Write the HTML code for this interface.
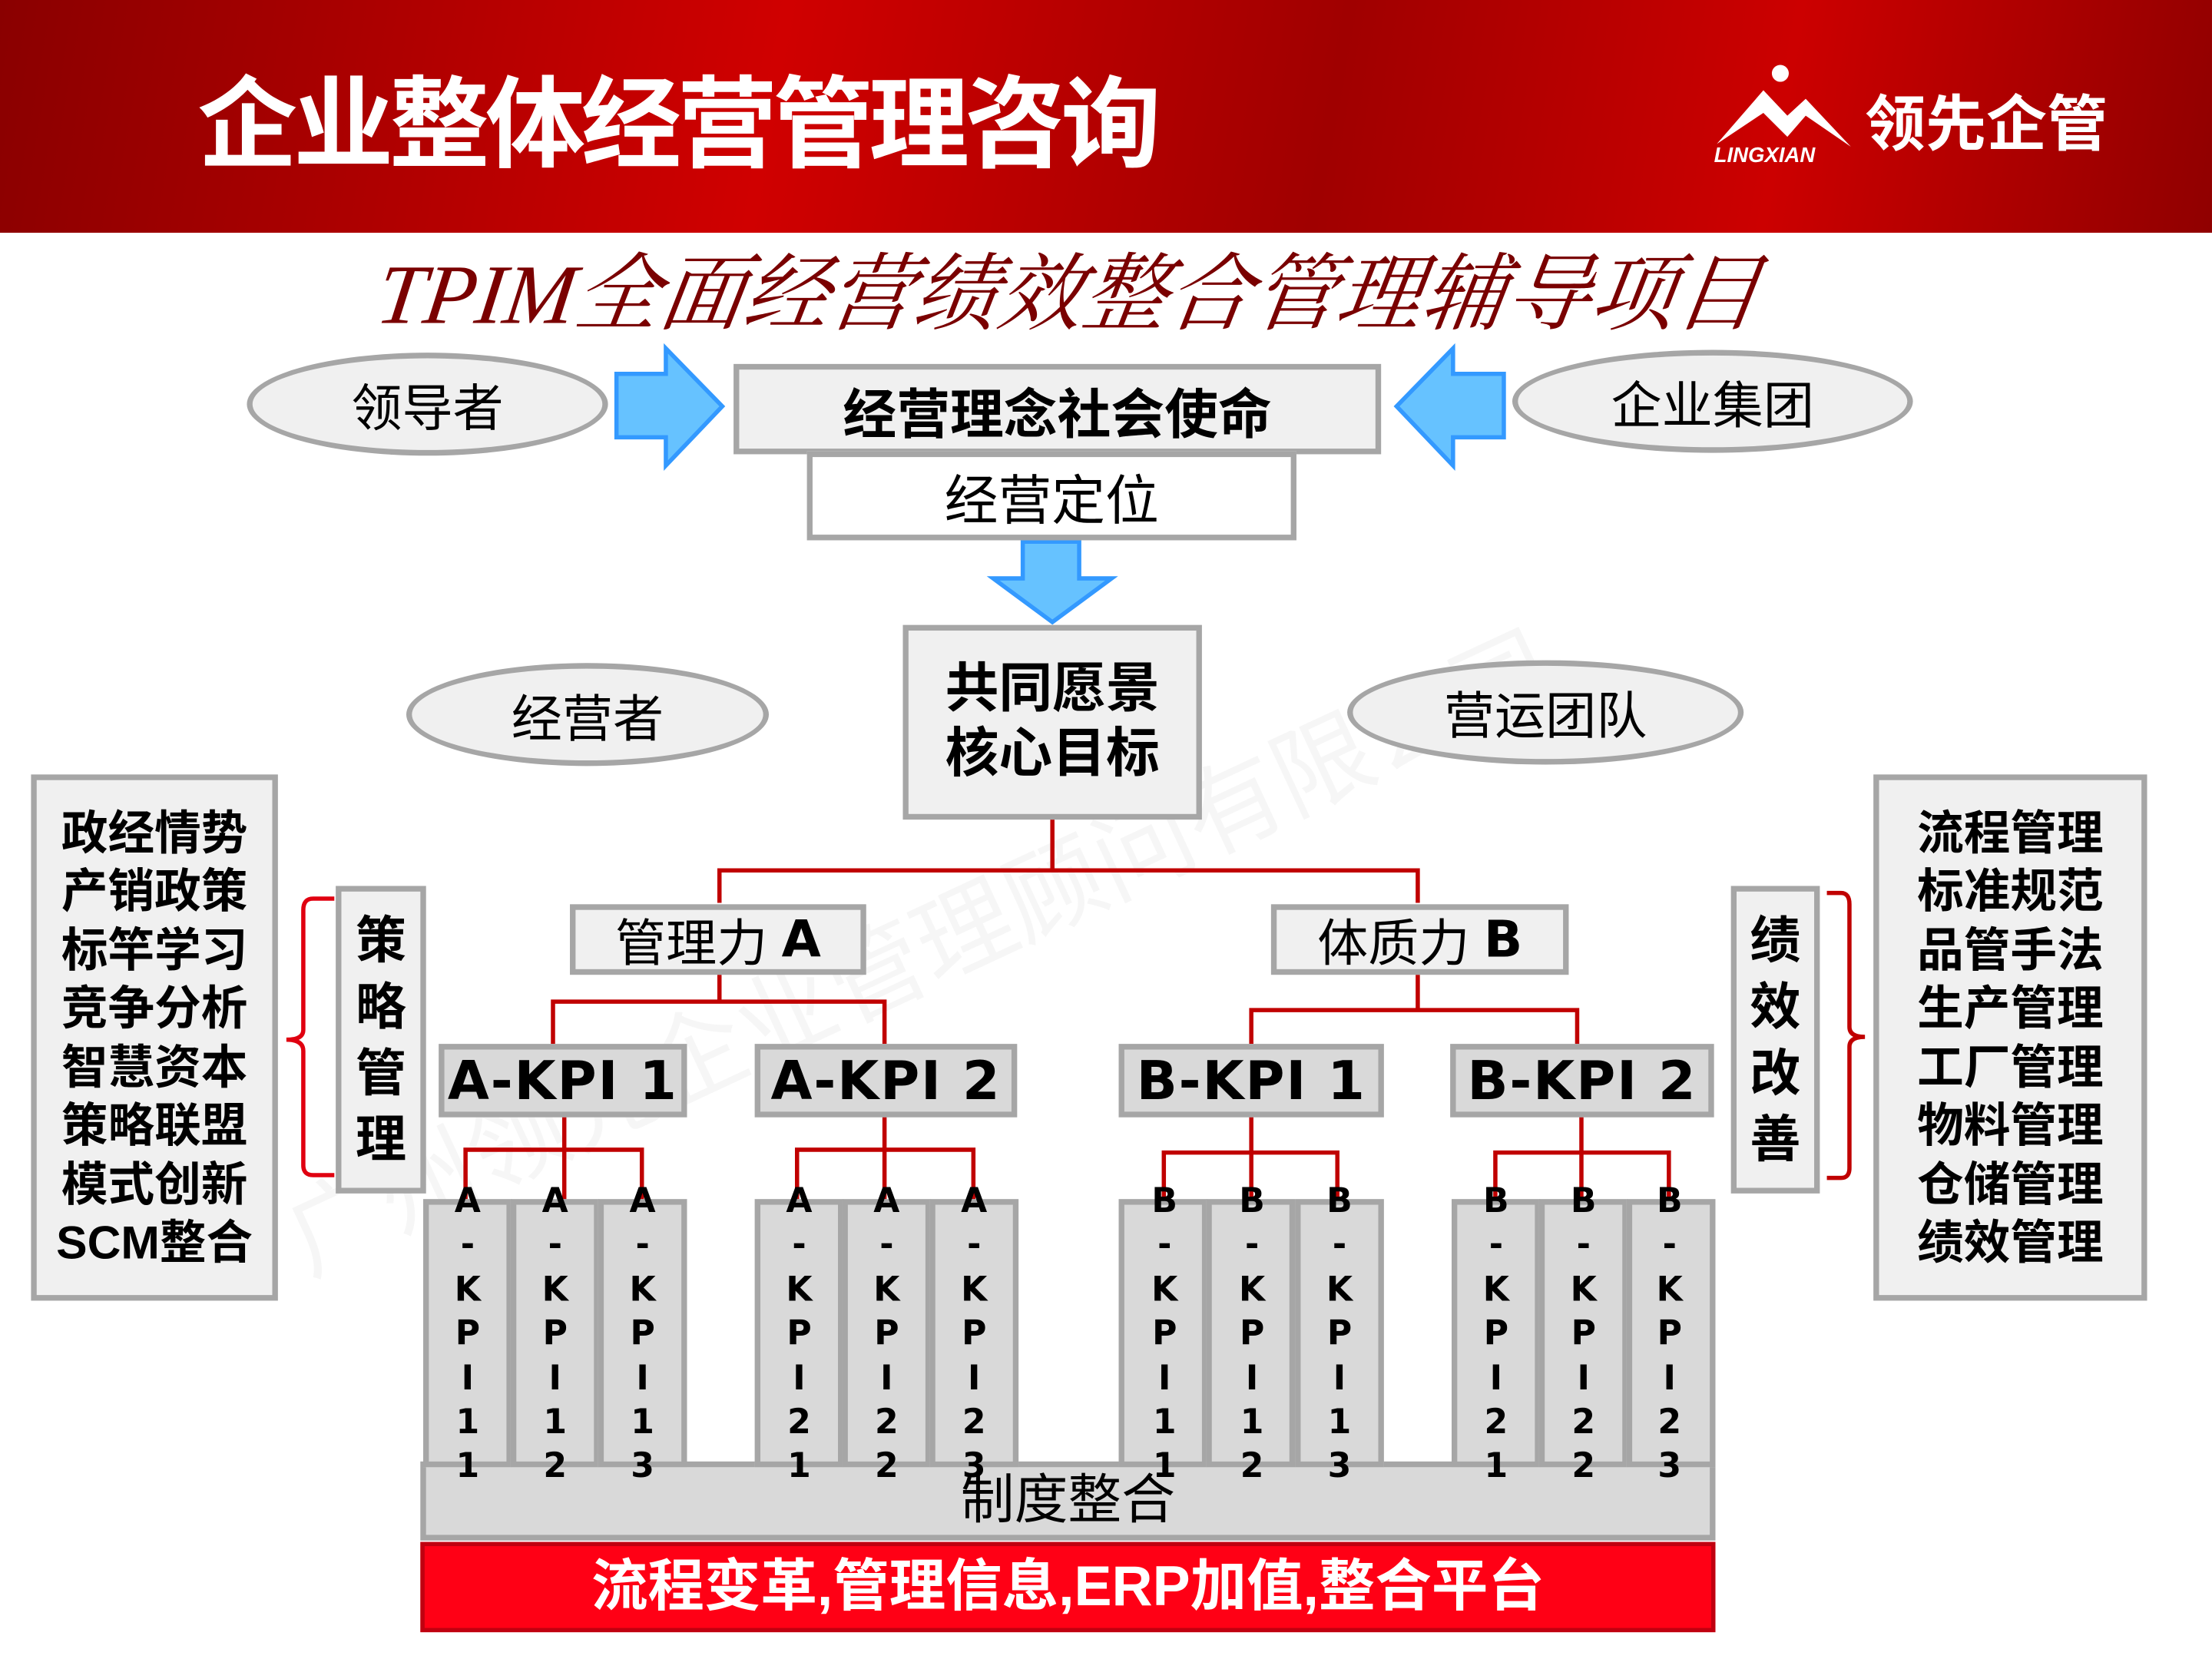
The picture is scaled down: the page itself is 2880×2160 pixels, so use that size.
<!DOCTYPE html>
<html><head><meta charset="utf-8"><style>
*{margin:0;padding:0;box-sizing:border-box}
html,body{width:2880px;height:2160px;overflow:hidden;background:#fff}
#s{position:absolute;left:0;top:0;width:1568px;height:1176px;transform:scale(1.83673);transform-origin:0 0;font-family:"Liberation Sans","Noto Sans CJK SC",sans-serif}
.a{position:absolute}
.box{position:absolute;border:4px solid #a6a6a6;background:#f0f0f0;display:flex;align-items:center;justify-content:center;color:#000;font-weight:bold}
.ell{position:absolute;border:4px solid #a6a6a6;background:#f0f0f0;border-radius:50%;display:flex;align-items:center;justify-content:center;font-size:36px;color:#000}
.kpi{position:absolute;border:4px solid #a6a6a6;background:#d9d9d9;display:flex;align-items:center;justify-content:center;font-family:"DejaVu Sans",sans-serif;font-weight:bold;font-size:38px;letter-spacing:1px;white-space:nowrap}
.col{position:absolute;top:850px;width:63px;height:190px;border:4px solid #a6a6a6;background:#d9d9d9}
.ct{position:absolute;top:836px;width:63px;text-align:center;font-family:"DejaVu Sans",sans-serif;font-weight:bold;font-size:24px;line-height:31.4px;color:#000}
.wm{position:absolute;color:rgba(0,0,0,0.035);font-size:70px;transform:rotate(-25deg);font-family:"Noto Sans CJK SC",sans-serif;white-space:nowrap}
</style></head><body><div id="s">
<div class="a" style="left:0;top:0;width:1568px;height:165px;background:linear-gradient(100deg,#8a0000 0%,#d00000 35%,#a00000 60%,#cc0000 80%,#900000 100%)"></div>
<div class="a" style="left:140px;top:38px;font-size:71px;font-weight:bold;color:#fff;letter-spacing:-3px;font-family:'Noto Sans CJK SC',sans-serif;line-height:90px">企业整体经营管理咨询</div>
<svg class="a" style="left:1212px;top:42px" width="110" height="80" viewBox="0 0 110 80"><circle cx="50" cy="10" r="6" fill="#fff"/><path d="M5 60 L38 22 L55 40 L68 28 L100 62 L68 40 L55 55 L38 38 Z" fill="#fff"/></svg>
<div class="a" style="left:1215px;top:102px;font-size:15px;font-weight:bold;font-style:italic;color:#fff">LINGXIAN</div>
<div class="a" style="left:1322px;top:58px;font-size:43px;font-weight:bold;color:#fff;font-family:'Noto Sans CJK SC',sans-serif;line-height:55px">领先企管</div>
<div class="a" style="left:268px;top:172px;font-size:60px;font-style:italic;color:#7a0000;font-family:'Liberation Serif','Noto Serif CJK SC',serif;line-height:75px;transform:skewX(-8deg)">TPIM全面经营绩效整合管理辅导项目</div>
<div class="wm" style="left:160px;top:620px">广州领先企业管理顾问有限公司</div>
<div class="ell" style="left:175px;top:250px;width:256px;height:73px">领导者</div>
<div class="ell" style="left:1072px;top:248px;width:284px;height:73px">企业集团</div>
<div class="ell" style="left:288px;top:470px;width:257px;height:73px">经营者</div>
<div class="ell" style="left:955px;top:468px;width:281px;height:74px">营运团队</div>
<svg class="a" style="left:0;top:0" width="1568" height="1176">
<path d="M437 265 H472 V247 L512 288 L472 330 V310 H437 Z" fill="#66c2ff" stroke="#3399ff" stroke-width="3"/>
<path d="M1066 265 H1030 V247 L990 288 L1030 330 V310 H1066 Z" fill="#66c2ff" stroke="#3399ff" stroke-width="3"/>
<path d="M725 384 H765 V410 H788 L746 441 L704 410 H725 Z" fill="#66c2ff" stroke="#3399ff" stroke-width="3"/>
<path d="M237 637 H222 Q215 637 215 645 V730 Q215 737 203 737 Q215 737 215 745 V826 Q215 833 222 833 H237" fill="none" stroke="#e00010" stroke-width="3"/>
<path d="M1295 633 H1305 Q1311 633 1311 641 V728 Q1311 735 1322 735 Q1311 735 1311 742 V828 Q1311 835 1305 835 H1295" fill="none" stroke="#c00000" stroke-width="3"/>
<g stroke="#c00000" stroke-width="3" fill="none">
<path d="M746 580 V617 M510 640 V617 H1005 V640"/>
<path d="M510 690 V710 M392 740 V710 H627 V740"/>
<path d="M1005 690 V716 M887 740 V716 H1118 V740"/>
<path d="M400 790 V852 M330 852 V815 H455 V852"/>
<path d="M627 790 V852 M565 852 V815 H690 V852"/>
<path d="M887 790 V852 M825 852 V817 H948 V852"/>
<path d="M1121 790 V852 M1060 852 V817 H1183 V852"/>
</g></svg>
<div class="box" style="left:520px;top:258px;width:459px;height:64px;font-size:38px">经营理念社会使命</div>
<div class="box" style="left:572px;top:320px;width:347px;height:63px;background:#fff;font-weight:normal;font-size:38px">经营定位</div>
<div class="box" style="left:640px;top:443px;width:212px;height:138px;font-size:38px;line-height:46px;text-align:center">共同愿景<br>核心目标</div>
<div class="box" style="left:404px;top:641px;width:210px;height:50px;font-weight:normal;font-size:36px">管理力&nbsp;<b style="font-family:'DejaVu Sans'">A</b></div>
<div class="box" style="left:901px;top:641px;width:211px;height:50px;font-weight:normal;font-size:36px">体质力&nbsp;<b style="font-family:'DejaVu Sans'">B</b></div>
<div class="kpi" style="left:311px;top:740px;width:176px;height:52px">A-KPI 1</div>
<div class="kpi" style="left:535px;top:740px;width:186px;height:52px">A-KPI 2</div>
<div class="kpi" style="left:793px;top:740px;width:188px;height:52px">B-KPI 1</div>
<div class="kpi" style="left:1028px;top:740px;width:187px;height:52px">B-KPI 2</div>
<div class="box" style="left:22px;top:549px;width:175px;height:373px;font-size:33px;line-height:41.5px;text-align:center">政经情势<br>产销政策<br>标竿学习<br>竞争分析<br>智慧资本<br>策略联盟<br>模式创新<br>SCM整合</div>
<div class="box" style="left:1328px;top:549px;width:194px;height:373px;font-size:33px;line-height:41.5px;text-align:center">流程管理<br>标准规范<br>品管手法<br>生产管理<br>工厂管理<br>物料管理<br>仓储管理<br>绩效管理</div>
<div class="box" style="left:238px;top:628px;width:64px;height:218px;font-size:36px;line-height:47px;text-align:center">策<br>略<br>管<br>理</div>
<div class="box" style="left:1227px;top:628px;width:63px;height:218px;font-size:36px;line-height:47px;text-align:center">绩<br>效<br>改<br>善</div>
<div class="a" style="left:298px;top:1036px;width:918px;height:56px;background:#d9d9d9;border:4px solid #a6a6a6"></div>
<div class="a" style="left:298px;top:1042px;width:918px;text-align:center;font-size:38px;line-height:44px;color:#000">制度整合</div>
<div class="col" style="left:300px"></div><div class="col" style="left:362px"></div><div class="col" style="left:424px"></div>
<div class="col" style="left:535px"></div><div class="col" style="left:597px"></div><div class="col" style="left:659px"></div>
<div class="col" style="left:793px"></div><div class="col" style="left:855px"></div><div class="col" style="left:918px"></div>
<div class="col" style="left:1029px"></div><div class="col" style="left:1091px"></div><div class="col" style="left:1153px"></div>
<div class="ct" style="left:300px">A<br>-<br>K<br>P<br>I<br>1<br>1</div>
<div class="ct" style="left:362px">A<br>-<br>K<br>P<br>I<br>1<br>2</div>
<div class="ct" style="left:424px">A<br>-<br>K<br>P<br>I<br>1<br>3</div>
<div class="ct" style="left:535px">A<br>-<br>K<br>P<br>I<br>2<br>1</div>
<div class="ct" style="left:597px">A<br>-<br>K<br>P<br>I<br>2<br>2</div>
<div class="ct" style="left:659px">A<br>-<br>K<br>P<br>I<br>2<br>3</div>
<div class="ct" style="left:794px">B<br>-<br>K<br>P<br>I<br>1<br>1</div>
<div class="ct" style="left:856px">B<br>-<br>K<br>P<br>I<br>1<br>2</div>
<div class="ct" style="left:918px">B<br>-<br>K<br>P<br>I<br>1<br>3</div>
<div class="ct" style="left:1029px">B<br>-<br>K<br>P<br>I<br>2<br>1</div>
<div class="ct" style="left:1091px">B<br>-<br>K<br>P<br>I<br>2<br>2</div>
<div class="ct" style="left:1152px">B<br>-<br>K<br>P<br>I<br>2<br>3</div>
<div class="a" style="left:298px;top:1093px;width:918px;height:64px;background:#ff0015;border:3px solid #c00010;color:#fff;font-size:40px;font-weight:bold;text-align:center;line-height:58px;white-space:nowrap">流程变革,管理信息,ERP加值,整合平台</div>
</div></body></html>
